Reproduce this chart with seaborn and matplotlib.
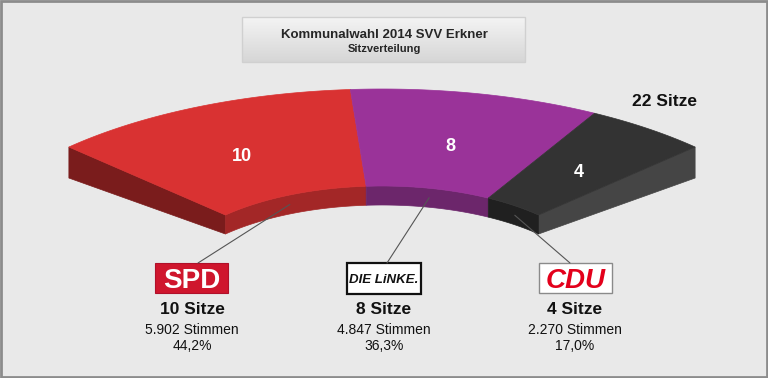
import matplotlib
matplotlib.use("Agg")
import matplotlib.pyplot as plt
from matplotlib.patches import Polygon, Rectangle
import numpy as np
import seaborn as sns

# Daten: Kommunalwahl 2014, SVV Erkner
parteien = ["SPD", "DIE LINKE", "CDU"]
sitze = [10, 8, 4]
stimmen = [5902, 4847, 2270]
prozent = [44.2, 36.3, 17.0]

# Farben: Oberseite, Innenwand, Seitenfläche
farbe_oben = ["#D93232", "#9A3399", "#333333"]
farbe_innen = ["#A32727", "#6C266B", "#202020"]
farbe_links = "#7A1C1C"
farbe_rechts = "#454545"

sns.set_theme(style="white")
plt.rcParams["font.family"] = ["Liberation Sans", "DejaVu Sans"]

fig = plt.figure(figsize=(7.68, 3.78), dpi=100)
fig.patch.set_facecolor("#E9E9E9")
ax = fig.add_axes([0, 0, 1, 1])
ax.set_xlim(0, 768)
ax.set_ylim(378, 0)
ax.axis("off")

# Geometrie des Halbrings (Pixel)
cx, cy = 382, 283
A, B = 439, 194          # äußere Halbachsen
k = 0.5                  # Verhältnis innen/außen
t_aus, t_in = 31, 19     # sichtbare Dicke außen / innen
phi = 45.5
th0 = 90 + phi
span = 2 * phi

def pt(theta, frac, dz=0.0):
    r = np.radians(theta)
    return cx + frac * A * np.cos(r), cy - frac * B * np.sin(r) + dz

gesamt = sum(sitze)
grenzen = [th0]
for s in sitze:
    grenzen.append(grenzen[-1] - span * s / gesamt)

# linke und rechte Stirnfläche
for th, col in [(grenzen[0], farbe_links), (grenzen[-1], farbe_rechts)]:
    poly = [pt(th, 1), pt(th, k), pt(th, k, t_in), pt(th, 1, t_aus)]
    ax.add_patch(Polygon(poly, closed=True, facecolor=col, edgecolor=col, lw=0.5))

for i, s in enumerate(sitze):
    ta, tb = grenzen[i], grenzen[i + 1]
    ths = np.linspace(ta, tb, 80)
    # Innenwand
    oben = [pt(t, k) for t in ths]
    unten = [pt(t, k, t_in) for t in ths[::-1]]
    ax.add_patch(Polygon(oben + unten, closed=True, facecolor=farbe_innen[i],
                         edgecolor=farbe_innen[i], lw=0.5))
    # Oberseite
    aussen = [pt(t, 1) for t in ths]
    innen = [pt(t, k) for t in ths[::-1]]
    ax.add_patch(Polygon(aussen + innen, closed=True, facecolor=farbe_oben[i],
                         edgecolor=farbe_oben[i], lw=0.5))
    # Sitzzahl
    tm = (ta + tb) / 2
    x, y = pt(tm, 0.75)
    ax.text(x - 2, y + 10, str(s), color="white", fontsize=13, fontweight="bold",
            ha="center", va="baseline")

ax.text(664, 106, f"{gesamt} Sitze", fontsize=12.5, fontweight="bold",
        ha="center", va="baseline", color="#111111")

# Titelbox mit Verlauf
grad = np.linspace(0, 1, 64).reshape(-1, 1)
ax.imshow(grad, extent=(242, 525, 62, 17), cmap=plt.matplotlib.colors.LinearSegmentedColormap.from_list(
    "g", ["#F4F4F4", "#D6D6D6"]), aspect="auto", zorder=1)
ax.add_patch(Rectangle((242, 17), 283, 45, fill=False, edgecolor="#D0D0D0", lw=1, zorder=2))
ax.text(384, 38, "Kommunalwahl 2014 SVV Erkner", fontsize=9.5, fontweight="bold",
        ha="center", va="baseline", zorder=3)
ax.text(384, 52, "Sitzverteilung", fontsize=8, fontweight="bold",
        ha="center", va="baseline", zorder=3)

# Beschriftung unten
mitte_x = [192, 384, 575]
ende = [(198, 263), (387, 263), (570, 263)]
for i in range(len(sitze)):
    tm = (grenzen[i] + grenzen[i + 1]) / 2
    x0, y0 = pt(tm, k, t_in / 2)
    sns.lineplot(x=[x0, ende[i][0]], y=[y0, ende[i][1]], ax=ax, color="#555555",
                 lw=0.8, estimator=None, sort=False, legend=False)
    xm = mitte_x[i]
    ax.text(xm, 314, f"{sitze[i]} Sitze", fontsize=12.5, fontweight="bold",
            ha="center", va="baseline", color="#111111")
    st = f"{stimmen[i]:,}".replace(",", ".")
    ax.text(xm, 334, f"{st} Stimmen", fontsize=10, ha="center", va="baseline", color="#111111")
    pz = f"{prozent[i]:.1f}".replace(".", ",") + "%"
    ax.text(xm, 350, pz, fontsize=10, ha="center", va="baseline", color="#111111")

# Logos
ax.add_patch(Rectangle((155, 263), 73, 30, facecolor="#CF162D", edgecolor="#B0102A", lw=0.8))
ax.text(191.5, 287.5, "SPD", color="white", fontsize=20, fontweight="heavy",
        ha="center", va="baseline")
ax.add_patch(Rectangle((347, 263), 74, 31, facecolor="white", edgecolor="#111111", lw=1.6))
ax.text(384, 283, "DIE LiNKE.", color="#111111", fontsize=9.5, fontweight="bold",
        style="italic", ha="center", va="baseline")
ax.add_patch(Rectangle((539, 263), 73, 30, facecolor="white", edgecolor="#8A8A8A", lw=1))
ax.text(575.5, 287.5, "CDU", color="#E3001B", fontsize=20, fontweight="bold",
        style="italic", ha="center", va="baseline")

# Rahmen
ax.add_patch(Rectangle((1, 1), 766, 376, fill=False, edgecolor="#8C8C8C", lw=2, zorder=5))

fig.savefig("out.png", dpi=100, facecolor=fig.get_facecolor())
